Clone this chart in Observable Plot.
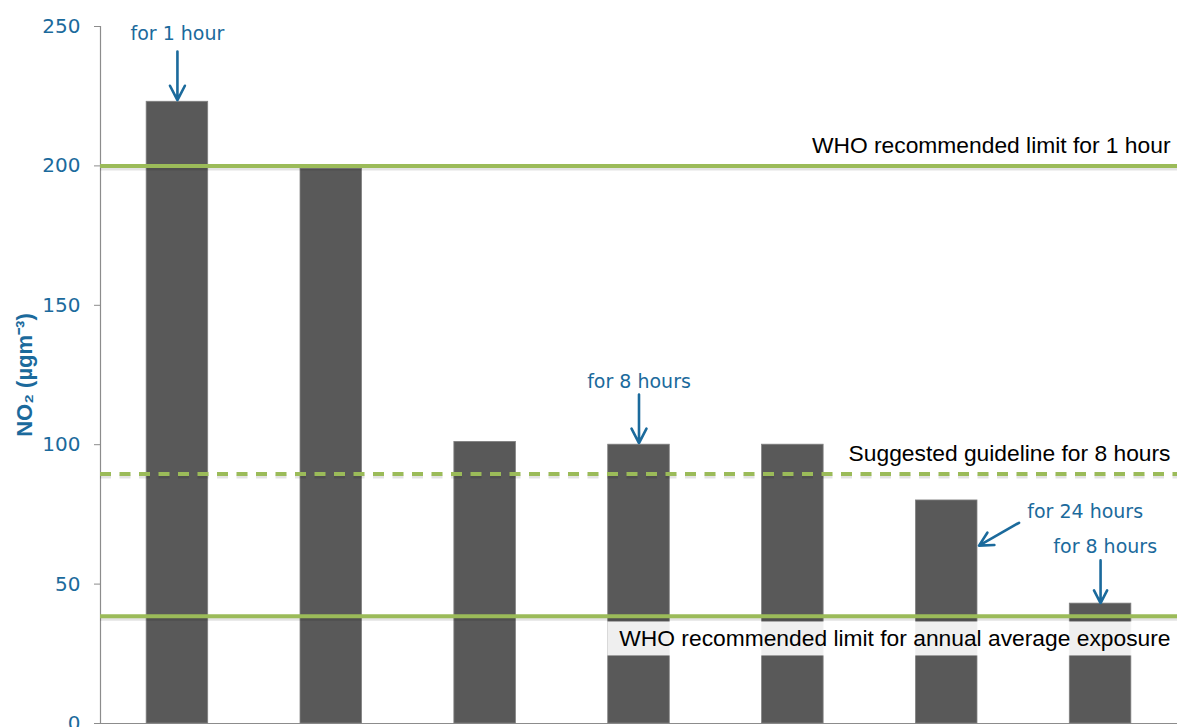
<!DOCTYPE html>
<html>
<head>
<meta charset="utf-8">
<script src="https://cdn.jsdelivr.net/npm/d3@7"></script>
<script src="https://cdn.jsdelivr.net/npm/@observablehq/plot@0.6"></script>
<style>
  html, body { margin: 0; padding: 0; background: #fff; }
  #chart svg { display: block; }
</style>
</head>
<body>
<div id="chart"></div>
<script>
// NO2 limit values (µg/m³) for each standard, left to right
const limitValues = [223, 199, 101, 100, 100, 80, 43];

// Horizontal reference levels and their labels
const guideLevels = [200, 89.5, 38.5];
const guideLabels = [
  "WHO recommended limit for 1 hour",
  "Suggested guideline for 8 hours",
  "WHO recommended limit for annual average exposure"
];
const guideDashed = [false, true, false];

// Averaging-period callouts (x = bar index, y = µg/m³)
const calloutText = ["for 1 hour", "for 8 hours", "for 24 hours", "for 8 hours"];
const calloutX = [0, 3, 5.9, 6.03];
const calloutY = [247.5, 122.5, 76, 63.5];
const arrowX1 = [0, 3, 5.47, 6];
const arrowY1 = [241, 118, 72, 58.5];
const arrowX2 = [0, 3, 5.21, 6];
const arrowY2 = [223.6, 100.6, 63.8, 43.2];

const yTicks = [0, 50, 100, 150, 200, 250];

const BLUE = "#1b6a9c";
const GREEN = "#9bbb59";
const BAR = "#595959";
const AXIS = "#8c8c8c";

const bars = limitValues.map((v, i) => ({i, v}));
const guides = guideLevels.map((y, k) => ({y, label: guideLabels[k], dashed: guideDashed[k]}));
const callouts = calloutText.map((t, k) => ({t, x: calloutX[k], y: calloutY[k]}));
const arrows = arrowX1.map((x1, k) => ({x1, y1: arrowY1[k], x2: arrowX2[k], y2: arrowY2[k]}));

const solid = guides.filter(d => !d.dashed);
const dashed = guides.filter(d => d.dashed);
const half = 0.2;

const chart = Plot.plot({
  width: 1185,
  height: 727,
  marginLeft: 100,
  marginRight: 8,
  marginTop: 26,
  marginBottom: 4,
  style: {fontFamily: "DejaVu Sans", background: "#fff"},
  x: {domain: [-0.5, 6.5], axis: null},
  y: {domain: [0, 250]},
  marks: [
    Plot.axisY({
      ticks: yTicks, tickSize: 6, tickPadding: 14,
      stroke: AXIS, fill: BLUE, fontSize: 20, label: null,
      fontFamily: "DejaVu Sans"
    }),
    Plot.ruleX([-0.5], {stroke: AXIS, strokeWidth: 1.2}),
    Plot.ruleY([0], {stroke: AXIS, strokeWidth: 1.2}),
    Plot.rectY(bars, {
      x1: d => d.i - half, x2: d => d.i + half, y: "v",
      fill: BAR, stroke: "#808080", strokeWidth: 0.8
    }),
    // soft shadows under the reference lines
    Plot.ruleY(solid, {y: "y", stroke: "#000", strokeOpacity: 0.11, strokeWidth: 4, dy: 2.5}),
    Plot.ruleY(dashed, {y: "y", stroke: "#000", strokeOpacity: 0.11, strokeWidth: 4, dy: 2.5, strokeDasharray: "11,8.5"}),
    Plot.ruleY(solid, {y: "y", stroke: GREEN, strokeWidth: 4}),
    Plot.ruleY(dashed, {y: "y", stroke: GREEN, strokeWidth: 4, strokeDasharray: "11,8.5"}),
    Plot.text(guides.filter(d => d.y > 60), {
      y: "y", text: "label", frameAnchor: "right", textAnchor: "end",
      dx: -7, dy: -20, fill: "#000", fontSize: 22.8, fontFamily: "Liberation Sans"
    }),
    Plot.text(guides.filter(d => d.y <= 60), {
      y: "y", text: "label", frameAnchor: "right", textAnchor: "end",
      dx: -7, dy: 23, fill: "#000", fontSize: 22.8, fontFamily: "Liberation Sans"
    }),
    Plot.arrow(arrows, {
      x1: "x1", y1: "y1", x2: "x2", y2: "y2",
      stroke: BLUE, strokeWidth: 2.6, headLength: 13, headAngle: 55
    }),
    Plot.text(callouts, {
      x: "x", y: "y", text: "t", fill: BLUE, fontSize: 19, fontFamily: "DejaVu Sans"
    }),
    Plot.text(["NO₂ (µgm⁻³)"], {
      text: d => d, frameAnchor: "left", textAnchor: "middle", rotate: -90, dx: -76,
      fill: BLUE, fontSize: 22, fontWeight: "bold", fontFamily: "Liberation Sans"
    })
  ]
});

document.getElementById("chart").appendChild(chart);

// White translucent panel behind the annual-average label
const svgRect = chart.getBoundingClientRect();
const annual = Array.from(chart.querySelectorAll("text"))
  .find(t => t.textContent === guideLabels[2]);
if (annual) {
  const b = annual.getBoundingClientRect();
  const rect = document.createElementNS("http://www.w3.org/2000/svg", "rect");
  rect.setAttribute("x", b.left - svgRect.left - 12);
  rect.setAttribute("y", b.top - svgRect.top - 4);
  rect.setAttribute("width", b.width + 19);
  rect.setAttribute("height", b.height + 8);
  rect.setAttribute("fill", "#fff");
  rect.setAttribute("fill-opacity", 0.9);
  const group = annual.parentNode;
  group.parentNode.insertBefore(rect, group);
}
</script>
</body>
</html>
